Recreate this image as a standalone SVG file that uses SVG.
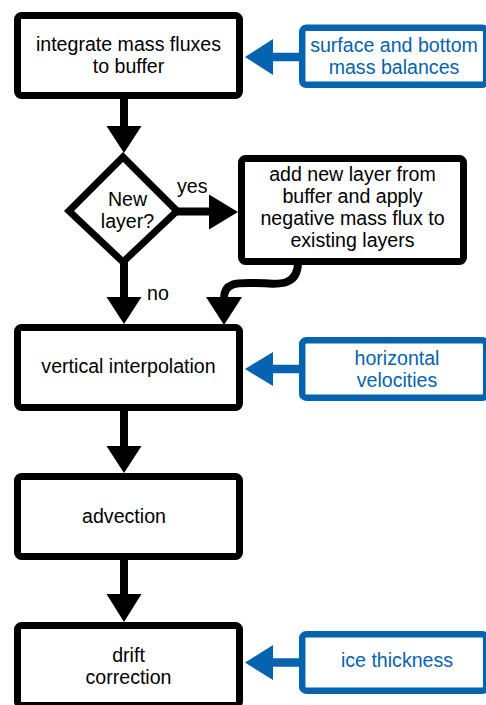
<svg xmlns="http://www.w3.org/2000/svg" width="486" height="705" viewBox="0 0 486 705">
<defs>
<style>
.box{fill:#fff;stroke:#000;stroke-width:7}
.inp{fill:#fff;stroke:#0563b0;stroke-width:6.5}
.t{font-family:"Liberation Sans",Arial,sans-serif;font-size:19.6px;fill:#000;text-anchor:middle}
.tb{font-family:"Liberation Sans",Arial,sans-serif;font-size:19.6px;fill:#0563b0;text-anchor:middle}
.lbl{font-family:"Liberation Sans",Arial,sans-serif;font-size:19.6px;fill:#000}
.shaft{stroke:#000;stroke-width:8;fill:none}
.bshaft{stroke:#0563b0;stroke-width:8.5;fill:none}
.head{fill:#000}
.bhead{fill:#0563b0}
</style>
</defs>
<rect width="486" height="705" fill="#fff"/>
<g id="connectors">
<path class="shaft" d="M124 99V127"/>
<path class="head" d="M106.5 126H141.5L124 153Z"/>
<path class="shaft" d="M176 211.5H211"/>
<path class="head" d="M209 194.5V229.5L238 212Z"/>
<path class="shaft" d="M124 262V298"/>
<path class="head" d="M106.5 297H141.5L124 324Z"/>
<path class="shaft" d="M298 262C298 290 272 283 256 283C240 283 224 281 224 298"/>
<path class="head" d="M206 297H242L224 325Z"/>
<path class="shaft" d="M124 411V447"/>
<path class="head" d="M106.5 446H141.5L124 473Z"/>
<path class="shaft" d="M124 560V595"/>
<path class="head" d="M106.5 594H141.5L124 622Z"/>
<path class="bshaft" d="M272 57H300"/>
<path class="bhead" d="M273 39V75L245 57Z"/>
<path class="bshaft" d="M272 369H300"/>
<path class="bhead" d="M273 352V386L245 369Z"/>
<path class="bshaft" d="M272 662.5H300"/>
<path class="bhead" d="M273 645V680L245 662.5Z"/>
</g>
<g id="integrate">
<rect class="box" x="17.5" y="15.5" width="222" height="80" rx="4"/>
<text class="t" x="128.5" y="51">integrate mass fluxes</text>
<text class="t" x="128.5" y="73">to buffer</text>
</g>
<g id="decision">
<path class="box" d="M123 157L177 211L123 262L69 211Z" stroke-linejoin="miter"/>
<text class="t" x="127.5" y="206">New</text>
<text class="t" x="127.5" y="228">layer?</text>
</g>
<g id="addlayer">
<rect class="box" x="241.5" y="158.5" width="222" height="103" rx="4"/>
<text class="t" x="352.5" y="181">add new layer from</text>
<text class="t" x="352.5" y="203">buffer and apply</text>
<text class="t" x="352.5" y="225">negative mass flux to</text>
<text class="t" x="352.5" y="247">existing layers</text>
</g>
<g id="labels">
<text class="lbl" x="177" y="193">yes</text>
<text class="lbl" x="147" y="300">no</text>
</g>
<g id="vertical">
<rect class="box" x="17.5" y="327.5" width="222" height="80" rx="4"/>
<text class="t" x="128.5" y="373">vertical interpolation</text>
</g>
<g id="advection">
<rect class="box" x="17.5" y="476.5" width="222" height="80" rx="4"/>
<text class="t" x="124" y="523">advection</text>
</g>
<g id="drift">
<rect class="box" x="17.5" y="625.5" width="222" height="80" rx="4"/>
<text class="t" x="128.5" y="662">drift</text>
<text class="t" x="128.5" y="684">correction</text>
</g>
<g id="massbal">
<rect class="inp" x="302.2" y="27.8" width="184" height="57" rx="4"/>
<text class="tb" x="394" y="52">surface and bottom</text>
<text class="tb" x="394" y="74">mass balances</text>
</g>
<g id="velocities">
<rect class="inp" x="302.2" y="340.3" width="184" height="57.4" rx="4"/>
<text class="tb" x="397" y="364.5">horizontal</text>
<text class="tb" x="397" y="386.5">velocities</text>
</g>
<g id="thickness">
<rect class="inp" x="302.2" y="634.3" width="184" height="56.4" rx="4"/>
<text class="tb" x="397" y="667">ice thickness</text>
</g>
</svg>
